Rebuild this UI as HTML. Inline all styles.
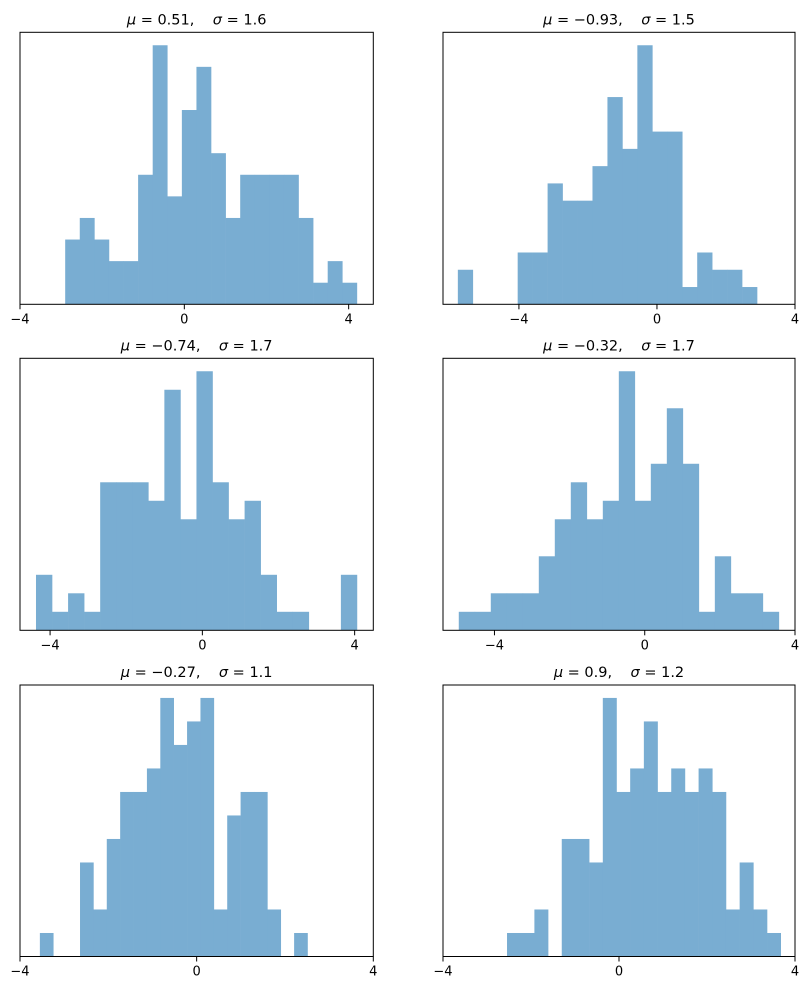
<!DOCTYPE html>
<html><head><meta charset="utf-8">
<style>
body{margin:0;background:#fff;}
svg text{font-family:"DejaVu Sans","Liberation Sans",sans-serif;}
</style></head>
<body>
<svg id="fig" width="809" height="990" viewBox="0 0 809 990" xmlns="http://www.w3.org/2000/svg"></svg>
<script>
const titlesMu = ["0.51", "\u22120.93", "\u22120.74", "\u22120.32", "\u22120.27", "0.9"];
const titlesSigma = ["1.6", "1.5", "1.7", "1.7", "1.1", "1.2"];
const binLo = [-2.9, -5.77, -4.37, -4.95, -3.55, -2.545];
const binHi = [4.2, 2.9, 4.06, 3.57, 2.51, 3.675];
const xlimLo = [-4.0, -6.2, -4.79, -5.37, -4.0, -4.0];
const xlimHi = [4.6, 4.0, 4.49, 4.0, 4.0, 4.0];
const tickVals = [-4, 0, 4];
const tickLabels = ["\u22124", "0", "4"];
const counts1 = [3,4,3,2,2,6,12,5,9,11,7,4,6,6,6,6,4,1,2,1];
const counts2 = [2,0,0,0,3,3,7,6,6,8,12,9,15,10,10,1,3,2,2,1];
const counts3 = [3,1,2,1,8,8,8,7,13,6,14,8,6,7,3,1,1,0,0,3];
const counts4 = [1,1,2,2,2,4,6,8,6,7,14,7,9,12,9,1,4,2,2,1];
const counts5 = [1,0,0,4,2,5,7,7,8,11,9,10,11,2,6,7,7,2,0,1];
const counts6 = [1,1,2,0,5,5,4,11,7,8,10,7,8,7,8,7,2,4,2,1];
const allCounts = [counts1, counts2, counts3, counts4, counts5, counts6];

const NS = "http://www.w3.org/2000/svg";
const svg = document.getElementById('fig');
const colX = [[20, 373.3], [443, 795]];
const rowY = [[32.3, 304.3], [358.3, 630.3], [685, 956.5]];
function mk(tag, attrs, parent) {
  const e = document.createElementNS(NS, tag);
  for (const k in attrs) e.setAttribute(k, attrs[k]);
  (parent || svg).appendChild(e);
  return e;
}
for (let i = 0; i < 6; i++) {
  const [x0, x1] = colX[i % 2];
  const [y0, y1] = rowY[Math.floor(i / 2)];
  const g = mk('g', {});
  
  
  const xs = v => x0 + (v - xlimLo[i]) / (xlimHi[i] - xlimLo[i]) * (x1 - x0);
  const c = allCounts[i];
  const ymax = Math.max(...c) * 1.05;
  const ys = v => y1 - v / ymax * (y1 - y0);
  const n = c.length, w = (binHi[i] - binLo[i]) / n;
  for (let b = 0; b < n; b++) {
    if (c[b] === 0) continue;
    const a = xs(binLo[i] + b * w), bb = xs(binLo[i] + (b + 1) * w);
    const r = mk('rect', {x: a, y: ys(c[b]), width: bb - a + 0.3, height: y1 - ys(c[b]), fill: '#79add2'}, g);
    
    
  }
  const fr = mk('rect', {x: x0, y: y0, width: x1 - x0, height: y1 - y0, fill: 'none', stroke: '#000', 'stroke-width': 1}, g);
  
  
  for (let t = 0; t < tickVals.length; t++) {
    const tx = xs(tickVals[t]);
    mk('line', {x1: tx, x2: tx, y1: y1, y2: y1 + 5, stroke: '#000', 'stroke-width': 1}, g);
    const tl = mk('text', {x: tx, y: y1 + 19, 'font-size': 13, 'text-anchor': 'middle', fill: '#000'}, g);
    
    
    tl.textContent = tickLabels[t];
  }
  const tt = mk('text', {x: (x0 + x1) / 2, y: y0 - 8, 'font-size': 14.5, 'text-anchor': 'middle', fill: '#000'}, g);
  
  
  const s1 = mk('tspan', {'font-style': 'italic'}, tt); s1.textContent = '\u03bc';
  const s2 = mk('tspan', {}, tt); s2.textContent = ' = ' + titlesMu[i] + ',\u00a0\u00a0\u00a0\u00a0';
  const s3 = mk('tspan', {'font-style': 'italic'}, tt); s3.textContent = '\u03c3';
  const s4 = mk('tspan', {}, tt); s4.textContent = ' = ' + titlesSigma[i];
}
</script>
</body></html>
